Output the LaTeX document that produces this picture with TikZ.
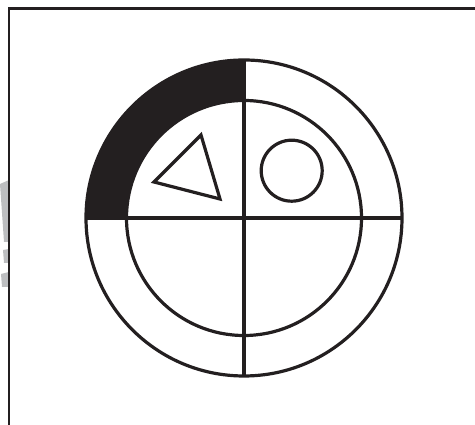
\documentclass[tikz,border=0pt]{standalone}
\definecolor{ink}{HTML}{231F20}
\definecolor{ghost}{HTML}{BDBEC0}
\tikzset{stroke/.style={draw=ink,line width=3.2pt},
  frame/.style={draw=ink,line width=2.8pt},
  ghostbit/.style={fill=ghost}}
\begin{document}
\begin{tikzpicture}[x=1pt,y=1pt]
\useasboundingbox (0,0) rectangle (475,425);
% faint grey fragments at the left edge
\fill[ghostbit] (0,241) -- (9,245) -- (9,183) -- (4,183) -- cycle;
\fill[ghostbit] (3,175) -- (9,176) -- (9,162) -- (4,162) -- cycle;
\fill[ghostbit] (1,151) -- (9,153) -- (9,138) -- (2,138) -- cycle;
% frame
\draw[frame] (475,416.5) -- (9,416.5) -- (9,0);
% shaded quarter of the ring
\coordinate (c) at (244,207);
\fill[ink] (244,365) arc[start angle=90,end angle=180,radius=158]
  -- (126.5,207) arc[start angle=180,end angle=90,radius=117.5] -- cycle;
% circles
\draw[stroke] (c) circle[radius=158];
\draw[stroke] (c) circle[radius=117.5];
% cross
\coordinate (L) at (86,207);
\coordinate (R) at (402,207);
\coordinate (T) at (244,365);
\coordinate (B) at (244,49);
\draw[stroke] (L) -- (R);
\draw[stroke] (T) -- (B);
% triangle and small circle
\draw[stroke,line join=miter] (154,243) -- (201,290) -- (220,226) -- cycle;
\draw[stroke] (291.7,254.3) circle[radius=30.5];
\end{tikzpicture}
\end{document}
